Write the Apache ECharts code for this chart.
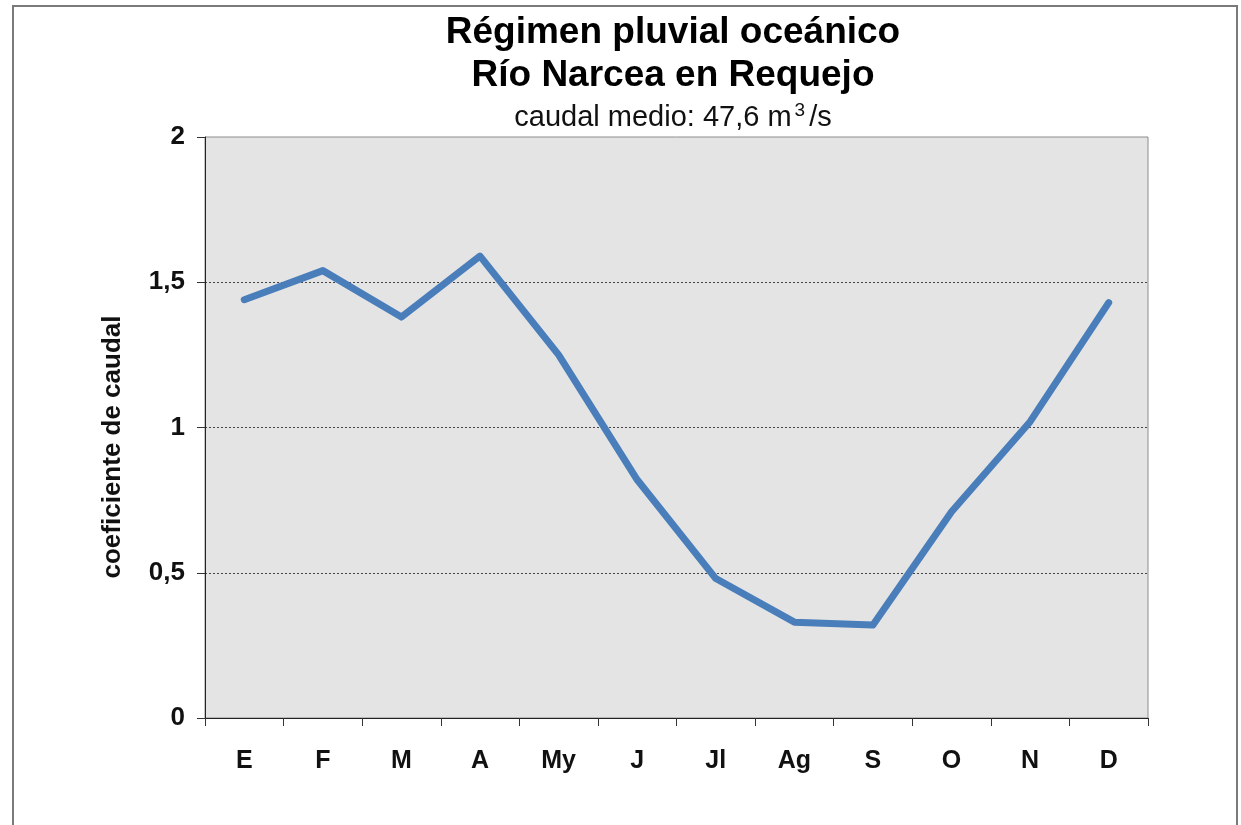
<!DOCTYPE html>
<html>
<head>
<meta charset="utf-8">
<script src="https://cdn.jsdelivr.net/npm/echarts@6/dist/echarts.min.js"></script>
<style>
  html, body { margin: 0; padding: 0; background: #ffffff; }
  #chart { width: 1241px; height: 825px; }
</style>
</head>
<body>
<div id="chart"></div>
<script>
// Monthly flow coefficients (monthly mean / annual mean)
const months = ['E', 'F', 'M', 'A', 'My', 'J', 'Jl', 'Ag', 'S', 'O', 'N', 'D'];
const coefficients = [1.44, 1.54, 1.38, 1.59, 1.25, 0.82, 0.48, 0.33, 0.32, 0.71, 1.02, 1.43];
const yTicks = { min: 0, max: 2, interval: 0.5 };
const yAxisTitle = 'coeficiente de caudal';

const FONT = '"Liberation Sans", Arial, sans-serif';
const TITLE_X = 673;

const chart = echarts.init(document.getElementById('chart'));
chart.setOption({
  backgroundColor: '#ffffff',
  animation: false,
  graphic: [
    // outer frame
    {
      type: 'rect',
      shape: { x: 13, y: 6, width: 1224, height: 830 },
      style: { fill: 'none', stroke: '#7a7a7a', lineWidth: 2 },
      silent: true
    },
    // heading, two bold lines
    {
      type: 'text',
      x: TITLE_X, y: 33,
      style: {
        text: 'Régimen pluvial oceánico',
        font: 'bold 37px ' + FONT,
        fill: '#000', align: 'center', verticalAlign: 'middle'
      },
      silent: true
    },
    {
      type: 'text',
      x: TITLE_X, y: 76,
      style: {
        text: 'Río Narcea en Requejo',
        font: 'bold 37px ' + FONT,
        fill: '#000', align: 'center', verticalAlign: 'middle'
      },
      silent: true
    },
    // mean discharge line with superscript exponent
    {
      type: 'text',
      x: TITLE_X, y: 118,
      style: {
        text: '{n|caudal medio: 47,6 m}{sup|3}{n|/s}',
        fill: '#111', align: 'center', verticalAlign: 'middle',
        rich: {
          n: { font: '29px ' + FONT, fill: '#111' },
          sup: { font: '19px ' + FONT, fill: '#111', padding: [0, 4, 14, 3] }
        }
      },
      silent: true
    },
    // vertical axis title
    {
      type: 'text',
      x: 113, y: 447,
      rotation: Math.PI / 2,
      style: {
        text: yAxisTitle,
        font: 'bold 26px ' + FONT,
        fill: '#111', align: 'center', verticalAlign: 'middle'
      },
      silent: true
    }
  ],
  grid: {
    left: 205, right: 93, top: 137, bottom: 107,
    show: true,
    backgroundColor: '#e4e4e4',
    borderColor: '#8c8c8c',
    borderWidth: 1
  },
  xAxis: {
    type: 'category',
    data: months,
    boundaryGap: true,
    axisLine: { show: true, lineStyle: { color: '#222', width: 1 } },
    axisTick: { show: true, length: 8, lineStyle: { color: '#333' } },
    axisLabel: { fontFamily: FONT, fontSize: 25, fontWeight: 'bold', color: '#111', margin: 31 },
    splitLine: { show: false }
  },
  yAxis: {
    type: 'value',
    min: yTicks.min,
    max: yTicks.max,
    interval: yTicks.interval,
    axisLine: { show: true, lineStyle: { color: '#222', width: 1 } },
    axisTick: { show: true, length: 8, lineStyle: { color: '#333' } },
    axisLabel: {
      fontFamily: FONT, fontSize: 26, fontWeight: 'bold', color: '#111', margin: 20,
      formatter: v => String(v).replace('.', ',')
    },
    splitLine: {
      show: true,
      lineStyle: { color: ['rgba(0,0,0,0)', '#444', '#444', '#444', 'rgba(0,0,0,0)'], type: [2, 2], width: 1 }
    }
  },
  series: [
    {
      type: 'line',
      data: coefficients,
      symbol: 'none',
      smooth: false,
      lineStyle: { color: '#4a7ebb', width: 7, join: 'round', cap: 'round' }
    }
  ]
});
</script>
</body>
</html>
